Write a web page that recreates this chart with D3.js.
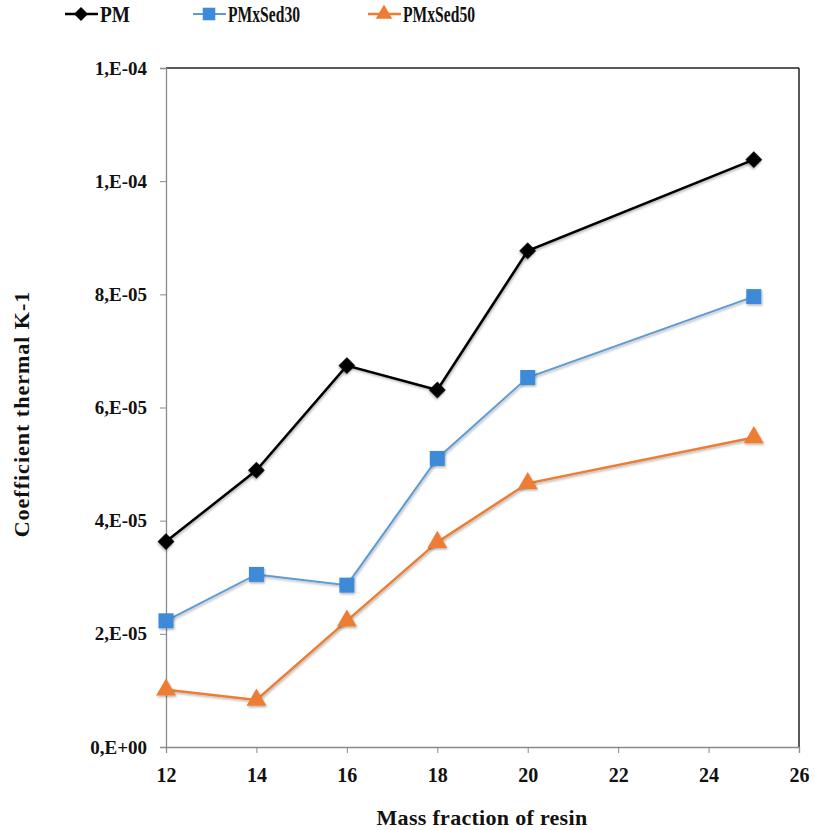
<!DOCTYPE html>
<html>
<head>
<meta charset="utf-8">
<script src="https://cdn.jsdelivr.net/npm/d3@7"></script>
<style>
  body { margin: 0; background: #fff; }
  svg text { font-family: "Liberation Serif", "Times New Roman", serif; }
</style>
</head>
<body>
<div id="chart"></div>
<script>
// data
var massFraction = [12, 14, 16, 18, 20, 25];
var pm = [3.63e-5, 4.89e-5, 6.74e-5, 6.31e-5, 8.77e-5, 10.38e-5];
var pmSed30 = [2.23e-5, 3.05e-5, 2.86e-5, 5.10e-5, 6.53e-5, 7.96e-5];
var pmSed50 = [1.01e-5, 0.83e-5, 2.23e-5, 3.62e-5, 4.66e-5, 5.47e-5];
var seriesNames = ["PM", "PMxSed30", "PMxSed50"];
var xTicks = [12, 14, 16, 18, 20, 22, 24, 26];
var yTicks = [0, 2e-5, 4e-5, 6e-5, 8e-5, 1e-4, 1.2e-4];
var yTickLabels = ["0,E+00", "2,E-05", "4,E-05", "6,E-05", "8,E-05", "1,E-04", "1,E-04"];

var svgwidth = 815;
var svgheight = 830;
var margin = { left: 166, top: 68, right: 16, bottom: 83 };
var inner_width = svgwidth - margin.left - margin.right;
var inner_height = svgheight - margin.top - margin.bottom;
var serif = "'Liberation Serif', 'Times New Roman', serif";

var svg = d3
  .select("#chart")
  .append("svg")
  .attr("width", svgwidth)
  .attr("height", svgheight);

// soft shadow like the spreadsheet markers
var defs = svg.append("defs");
var f = defs.append("filter").attr("id", "shadow")
  .attr("x", "-50%").attr("y", "-50%").attr("width", "200%").attr("height", "200%");
f.append("feDropShadow")
  .attr("dx", 1).attr("dy", 1.5).attr("stdDeviation", 1.2)
  .attr("flood-color", "#000").attr("flood-opacity", 0.3);

var g = svg.append("g").attr("transform", "translate(" + margin.left + "," + margin.top + ")");

var xscale = d3.scaleLinear().domain([12, 26]).range([0, inner_width]);
var yscale = d3.scaleLinear().domain([0, 1.2e-4]).range([inner_height, 0]);

// frame: dark top / right
g.append("line")
  .attr("x1", 0).attr("x2", inner_width).attr("y1", 0).attr("y2", 0)
  .attr("stroke", "#222").attr("stroke-width", 1.5);
g.append("line")
  .attr("x1", inner_width).attr("x2", inner_width).attr("y1", 0).attr("y2", inner_height)
  .attr("stroke", "#222").attr("stroke-width", 1.5);

// x axis
var xaxis = d3.axisBottom(xscale).tickValues(xTicks).tickSize(6).tickFormat(d3.format("d"));
var gx = g.append("g")
  .attr("transform", "translate(0," + inner_height + ")")
  .attr("font-family", serif)
  .call(xaxis);
gx.select(".domain").attr("stroke", "#8a8a8a").attr("stroke-width", 1.3);
gx.selectAll(".tick line").attr("stroke", "#8a8a8a");
gx.selectAll(".tick text")
  .attr("dy", "1.3em")
  .style("font-size", "20px")
  .style("font-weight", "bold")
  .style("fill", "#111");

// y axis
var yaxis = d3.axisLeft(yscale).tickValues(yTicks).tickSize(6)
  .tickFormat(function (d, i) { return yTickLabels[i]; });
var gy = g.append("g").attr("font-family", serif).call(yaxis);
gy.select(".domain").attr("stroke", "#8a8a8a").attr("stroke-width", 1.3);
gy.selectAll(".tick line").attr("stroke", "#8a8a8a");
gy.selectAll(".tick text")
  .attr("x", -19)
  .style("font-size", "19px")
  .style("font-weight", "bold")
  .style("fill", "#111");

// axis titles
svg.append("text")
  .attr("x", 482)
  .attr("y", 825)
  .style("text-anchor", "middle")
  .style("font-size", "22px")
  .style("font-weight", "bold")
  .style("letter-spacing", "0.3px")
  .style("fill", "#111")
  .text("Mass fraction of resin");

svg.append("text")
  .attr("transform", "translate(29,414) rotate(-90)")
  .style("text-anchor", "middle")
  .style("font-size", "22px")
  .style("font-weight", "bold")
  .style("letter-spacing", "1px")
  .style("fill", "#111")
  .text("Coefficient thermal K-1");

var series = [
  { name: seriesNames[0], values: pm, color: "#000000", markerColor: "#000000", symbol: d3.symbolSquare, rotate: 45, size: 140, width: 2.5 },
  { name: seriesNames[1], values: pmSed30, color: "#5b9bd5", markerColor: "#3d8bd8", symbol: d3.symbolSquare, rotate: 0, size: 225, width: 2 },
  { name: seriesNames[2], values: pmSed50, color: "#ed7d31", markerColor: "#ed7d31", symbol: d3.symbolTriangle, rotate: 0, size: 170, width: 2.5 }
];

var line = d3.line()
  .x(function (d, i) { return xscale(massFraction[i]); })
  .y(function (d) { return yscale(d); });

series.forEach(function (s) {
  g.append("path")
    .datum(s.values)
    .attr("fill", "none")
    .attr("stroke", s.color)
    .attr("stroke-width", s.width)
    .attr("filter", "url(#shadow)")
    .attr("d", line);

  g.selectAll(null)
    .data(s.values)
    .join("path")
    .attr("transform", function (d, i) {
      return "translate(" + xscale(massFraction[i]) + "," + yscale(d) + ") rotate(" + s.rotate + ")";
    })
    .attr("d", d3.symbol().type(s.symbol).size(s.size))
    .attr("fill", s.markerColor)
    .attr("filter", "url(#shadow)");
});

// legend on top
var legendX = [65, 193, 368];
var legendTextW = [30, 72, 72];
var legend = svg.selectAll(".legend")
  .data(series)
  .join("g")
  .attr("class", "legend")
  .attr("transform", function (d, i) { return "translate(" + legendX[i] + ",14)"; });

legend.append("line")
  .attr("x1", 0).attr("x2", 33)
  .attr("stroke", function (d) { return d.color; })
  .attr("stroke-width", function (d) { return d.width; });

legend.append("path")
  .attr("transform", function (d) { return "translate(16,0) rotate(" + d.rotate + ")"; })
  .attr("d", function (d) { return d3.symbol().type(d.symbol).size(d.size * 0.7)(); })
  .attr("fill", function (d) { return d.markerColor; });

legend.append("text")
  .attr("x", 35)
  .attr("dy", "0.36em")
  .attr("textLength", function (d, i) { return legendTextW[i]; })
  .attr("lengthAdjust", "spacingAndGlyphs")
  .style("font-size", "23px")
  .style("font-weight", "600")
  .style("fill", "#111")
  .text(function (d) { return d.name; });
</script>
</body>
</html>
